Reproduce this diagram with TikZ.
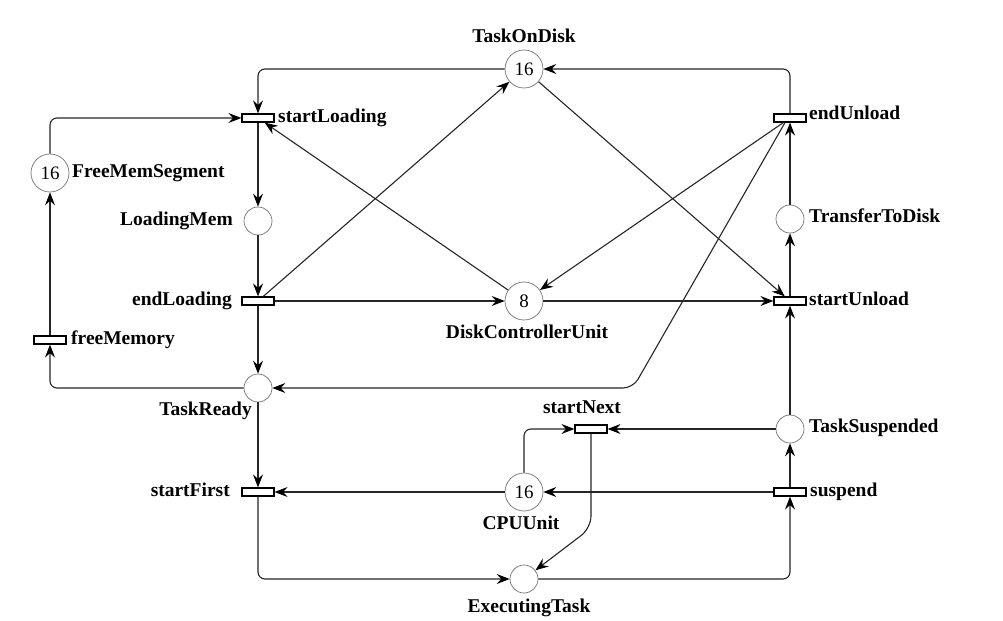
\documentclass[tikz,border=0pt]{standalone}
\usepackage{fontspec}
\setmainfont{Liberation Serif}
\usetikzlibrary{arrows.meta,calc}
\newcommand\lblf{\fontsize{19.5bp}{24bp}\selectfont\bfseries}
\newcommand\numf{\fontsize{19bp}{20bp}\selectfont}
\tikzset{
  place/.style={circle,draw=black!55,line width=0.7bp,inner sep=0pt,fill=white,font=\numf},
  bigplace/.style={place,minimum size=38bp},
  smallplace/.style={place,minimum size=28bp},
  trans/.style={rectangle,draw=black,line width=1.2bp,fill=white,minimum width=32bp,minimum height=8bp,inner sep=0pt},
  lbl/.style={font=\lblf,inner sep=0pt,text=black},
  arc/.style={draw=black!85,line width=1.1bp,-{Stealth[length=13bp,width=10bp,inset=4.5bp,color=black]}},
  rnd/.style={rounded corners=7bp}
}
\begin{document}
\begin{tikzpicture}[x=1bp,y=-1bp]
\fill[white] (0,0) rectangle (1003,621);
\useasboundingbox (0,0) rectangle (1003,621);
% places
\node[bigplace] (tod) at (524,69) {16};
\node[bigplace] (fms) at (50,173) {16};
\node[smallplace] (lm) at (258,221) {};
\node[bigplace] (dcu) at (524,301) {8};
\node[smallplace] (ttd) at (790,219) {};
\node[smallplace] (tr) at (258,388) {};
\node[smallplace] (ts) at (790,429) {};
\node[bigplace] (cpu) at (524,492) {16};
\node[smallplace] (et) at (524,579) {};
% transitions
\node[trans] (sL) at (258,118) {};
\node[trans] (eL) at (258,301) {};
\node[trans] (fM) at (50,340) {};
\node[trans] (sF) at (258,492) {};
\node[trans] (sN) at (591,429) {};
\node[trans] (su) at (790,492) {};
\node[trans] (sU) at (790,301) {};
\node[trans] (eU) at (790,118) {};
% labels
\node[lbl,anchor=base] (ltod) at (524,43) {TaskOnDisk};
\node[lbl,anchor=base west] (lsL) at (278,123) {startLoading};
\node[lbl,anchor=base west] (lfms) at (72,178) {FreeMemSegment};
\node[lbl,anchor=base east] (llm) at (233,226) {LoadingMem};
\node[lbl,anchor=base east] (leL) at (232,305) {endLoading};
\node[lbl,anchor=base west] (lfM) at (71,344) {freeMemory};
\node[lbl,anchor=base] (ldcu) at (527,338) {DiskControllerUnit};
\node[lbl,anchor=base east] (ltr) at (252,415) {TaskReady};
\node[lbl,anchor=base east] (lsF) at (230,496) {startFirst};
\node[lbl,anchor=base] (lcpu) at (521,529) {CPUUnit};
\node[lbl,anchor=base] (let) at (529,612) {ExecutingTask};
\node[lbl,anchor=base] (lsN) at (582,413) {startNext};
\node[lbl,anchor=base west] (lts) at (809,432) {TaskSuspended};
\node[lbl,anchor=base west] (lsu) at (810,496) {suspend};
\node[lbl,anchor=base west] (lttd) at (809,223) {TransferToDisk};
\node[lbl,anchor=base west] (lsU) at (809,305) {startUnload};
\node[lbl,anchor=base west] (leU) at (809,120) {endUnload};
% helper coordinates
\coordinate (k1) at (633,388);
\coordinate (k2) at (591,528);
% arcs
\draw[arc,rnd] (tod.west) -| (sL.north);
\draw[arc,rnd] (eU.north) |- (tod.east);
\draw[arc,rnd] (fms.north) |- (sL.west);
\draw[arc] (fM.north) -- (fms.south);
\draw[arc,rnd] (tr.west) -| (fM.south);
\draw[arc] (sL) -- (lm);
\draw[arc] (lm) -- (eL);
\draw[arc] (eL) -- (tr);
\draw[arc] (eL) -- (tod);
\draw[arc] (dcu) -- (sL);
\draw[arc] (eL) -- (dcu);
\draw[arc] (dcu) -- (sU);
\draw[arc] (tod) -- (sU);
\draw[arc] (eU) -- (dcu);
\draw[arc,rounded corners=10bp] ($(eU.south)+(-5,0)$) -- (k1) -- (tr.east);
\draw[arc] (sU) -- (ttd);
\draw[arc] (ttd) -- (eU);
\draw[arc] (ts) -- (sU);
\draw[arc] (ts) -- (sN);
\draw[arc,rnd] (cpu.north) |- (sN.west);
\draw[arc,rounded corners=12bp] (sN.south) -- (k2) -- (et);
\draw[arc] (su) -- (cpu);
\draw[arc] (su) -- (ts);
\draw[arc] (cpu) -- (sF);
\draw[arc] (tr) -- (sF);
\draw[arc,rnd] (sF.south) |- (et.west);
\draw[arc,rnd] (et.east) -| (su.south);
\end{tikzpicture}
\end{document}
